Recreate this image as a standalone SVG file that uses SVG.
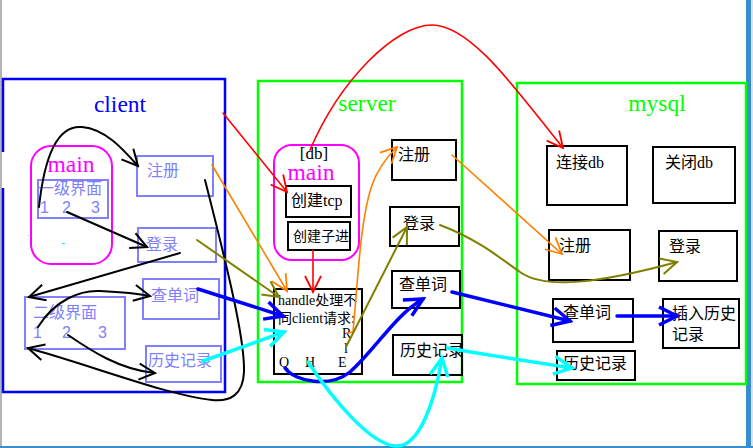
<svg xmlns="http://www.w3.org/2000/svg" width="753" height="448" viewBox="0 0 753 448">
<style>
.cn{font-family:"Liberation Sans","Noto Sans CJK SC",sans-serif}
.sf{font-family:"Liberation Serif","Noto Sans CJK SC",serif}
.lbl{fill:#8080ff;font-size:16px}
.blk{fill:#000;font-size:16px}
.pbox{fill:none;stroke:#8080ff;stroke-width:2}
.bbox{fill:none;stroke:#000;stroke-width:2}
.gbox{fill:none;stroke:#00ff00;stroke-width:2.5}
.mbox{fill:none;stroke:#ff00ff;stroke-width:2}
.ttl{font-size:23.5px}
.c{fill:none;stroke-linecap:round}
.k{stroke:#000;stroke-width:2}
.r{stroke:#ff0000;stroke-width:1.6}
.o{stroke:#ff8000;stroke-width:1.6}
.v{stroke:#808000;stroke-width:2}
.b{stroke:#0000ff;stroke-width:3.5}
.y{stroke:#00ffff;stroke-width:3.5}
</style>
<defs>
<marker id="mk-k" viewBox="0 0 20 20" refX="18" refY="10" markerWidth="20" markerHeight="20" markerUnits="userSpaceOnUse" orient="auto"><path d="M2,2 L18,10 L2,18" fill="none" stroke="#000" stroke-width="2"/></marker>
<marker id="mk-r" viewBox="0 0 20 20" refX="18" refY="10" markerWidth="20" markerHeight="20" markerUnits="userSpaceOnUse" orient="auto"><path d="M2,2 L18,10 L2,18" fill="none" stroke="#ff0000" stroke-width="1.8"/></marker>
<marker id="mk-o" viewBox="0 0 20 20" refX="18" refY="10" markerWidth="20" markerHeight="20" markerUnits="userSpaceOnUse" orient="auto"><path d="M2,2 L18,10 L2,18" fill="none" stroke="#ff8000" stroke-width="1.8"/></marker>
<marker id="mk-v" viewBox="0 0 20 20" refX="18" refY="10" markerWidth="20" markerHeight="20" markerUnits="userSpaceOnUse" orient="auto"><path d="M2,2 L18,10 L2,18" fill="none" stroke="#808000" stroke-width="2"/></marker>
<marker id="mk-b" viewBox="0 0 24 24" refX="21" refY="12" markerWidth="24" markerHeight="24" markerUnits="userSpaceOnUse" orient="auto"><path d="M3,3 L21,12 L3,21" fill="none" stroke="#0000ff" stroke-width="3.5"/></marker>
<marker id="mk-y" viewBox="0 0 24 24" refX="21" refY="12" markerWidth="24" markerHeight="24" markerUnits="userSpaceOnUse" orient="auto"><path d="M3,3 L21,12 L3,21" fill="none" stroke="#00ffff" stroke-width="3.5"/></marker>
<clipPath id="clipZi"><rect x="288" y="222" width="61" height="28"/></clipPath>
<clipPath id="clipHandle"><rect x="275" y="290" width="86" height="83"/></clipPath>
<clipPath id="clipHist"><rect x="393" y="335" width="68" height="40"/></clipPath>
</defs>
<rect x="0" y="0" width="753" height="448" fill="#fff"/>
<rect x="0" y="0" width="2" height="448" fill="#b4b4b4"/>
<rect x="746" y="0" width="5" height="448" fill="#3a8dcc"/>
<rect x="751" y="0" width="2" height="448" fill="#e0e0e0"/>
<rect x="0" y="446" width="753" height="2" fill="#3a8dcc"/>

<g id="client">
<path d="M3,152 V79 H225 V392 H3 V188" fill="none" stroke="#0000ff" stroke-width="2.5"/>
<text x="120" y="112" class="sf ttl" fill="#0000ff" text-anchor="middle">client</text>
</g>
<g id="client-main">
<rect x="31" y="146" width="81" height="118" rx="20" class="mbox"/>
<text x="71" y="172" class="sf ttl" fill="#ff00ff" text-anchor="middle">main</text>
<rect x="38" y="180" width="70" height="38" class="pbox"/>
<text x="38" y="194" class="cn lbl">一级界面</text>
<text x="40" y="213" class="cn lbl" font-size="14">1</text>
<text x="62" y="213" class="cn lbl" font-size="14">2</text>
<text x="91" y="213" class="cn lbl" font-size="14">3</text>
<rect x="28" y="235" width="1" height="1" fill="#00ffff"/>
<rect x="62" y="243" width="3" height="1" fill="#00ffff"/>
</g>
<g id="client-zhuce"><rect x="137" y="156" width="76" height="40" class="pbox"/><text x="147" y="176" class="cn lbl">注册</text></g>
<g id="client-denglu"><rect x="138" y="228" width="78" height="34" class="pbox"/><text x="146" y="250" class="cn lbl">登录</text></g>
<g id="client-cha"><rect x="143" y="279" width="76" height="40" class="pbox"/><text x="151" y="301" class="cn lbl">查单词</text></g>
<g id="client-erji">
<rect x="25" y="297" width="100" height="52" class="pbox"/>
<text x="33" y="318" class="cn lbl">二级界面</text>
<text x="33" y="338" class="cn lbl" font-size="14">1</text>
<text x="62" y="338" class="cn lbl" font-size="14">2</text>
<text x="98" y="338" class="cn lbl" font-size="14">3</text>
</g>
<g id="client-lishi"><rect x="146" y="346" width="75" height="36" class="pbox"/><text x="148" y="366" class="cn lbl">历史记录</text></g>

<g id="server">
<rect x="258" y="81" width="204" height="301" class="gbox"/>
<text x="367" y="111" class="sf ttl" fill="#00ff00" text-anchor="middle">server</text>
</g>
<g id="server-main">
<rect x="274" y="145" width="85" height="115" rx="18" class="mbox"/>
<text x="311" y="180" class="sf ttl" fill="#ff00ff" text-anchor="middle">main</text>
<text x="314" y="159" class="sf" font-size="17" fill="#000" text-anchor="middle">[db]</text>
<rect x="286" y="186" width="65" height="31" class="bbox"/>
<text x="291" y="206" class="sf blk">创建tcp</text>
<rect x="288" y="222" width="62" height="28" class="bbox"/>
<text x="293" y="241" class="sf" font-size="14" clip-path="url(#clipZi)">创建子进程</text>
</g>
<g id="server-handle">
<rect x="274" y="289" width="88" height="85" class="bbox"/>
<g clip-path="url(#clipHandle)" class="sf" font-size="14">
<text x="278" y="305">handle处理不</text>
<text x="278" y="323">同client请求:</text>
<text x="342" y="338">R</text>
<text x="344" y="353">l</text>
<text x="279" y="367">Q</text>
<text x="305" y="367">H</text>
<text x="338" y="367">E</text>
</g>
</g>
<g id="server-zhuce"><rect x="392" y="140" width="64" height="40" class="bbox"/><text x="398" y="160" class="cn blk" font-size="15">注册</text></g>
<g id="server-denglu"><rect x="390" y="207" width="69" height="39" class="bbox"/><text x="403" y="229" class="cn blk" font-size="15">登录</text></g>
<g id="server-cha"><rect x="392" y="271" width="68" height="37" class="bbox"/><text x="399" y="290" class="cn blk" font-size="15.5">查单词</text></g>
<g id="server-lishi"><rect x="393" y="335" width="69" height="40" class="bbox"/><text x="400" y="356" class="cn blk" font-size="16" clip-path="url(#clipHist)">历史记录</text></g>

<g id="mysql">
<rect x="517" y="83" width="229" height="301" class="gbox"/>
<text x="657" y="111" class="sf ttl" fill="#00ff00" text-anchor="middle">mysql</text>
</g>
<g id="mysql-lianjie"><rect x="547" y="146" width="80" height="59" class="bbox"/><text x="556" y="168" class="sf blk" font-size="15">连接db</text></g>
<g id="mysql-guanbi"><rect x="653" y="147" width="82" height="56" class="bbox"/><text x="665" y="168" class="sf blk" font-size="15">关闭db</text></g>
<g id="mysql-zhuce"><rect x="549" y="230" width="81" height="50" class="bbox"/><text x="559" y="251" class="cn blk" font-size="15">注册</text></g>
<g id="mysql-denglu"><rect x="659" y="231" width="78" height="50" class="bbox"/><text x="669" y="252" class="cn blk" font-size="15">登录</text></g>
<g id="mysql-cha"><rect x="553" y="299" width="80" height="43" class="bbox"/><text x="563" y="318" class="cn blk" font-size="15">查单词</text></g>
<g id="mysql-charu"><rect x="663" y="299" width="76" height="49" class="bbox"/><text x="672" y="319" class="cn blk" font-size="15">插入历史</text><text x="672" y="340" class="cn blk" font-size="15">记录</text></g>
<g id="mysql-lishi"><rect x="557" y="351" width="78" height="29" class="bbox"/><text x="563" y="369" class="cn blk" font-size="15">历史记录</text></g>

<g id="connectors">
<path class="c k" d="M39,207 C45,150 60,125 82,127 C105,129 122,148 138,166" marker-end="url(#mk-k)"/>
<path class="c k" d="M67,212 L147,247" marker-end="url(#mk-k)"/>
<path class="c k" d="M180,253 L29,297" marker-end="url(#mk-k)"/>
<path class="c k" d="M38,327 C55,300 80,290 100,291 C120,292 135,293 150,296" marker-end="url(#mk-k)"/>
<path class="c k" d="M68,335 C90,350 120,370 155,373" marker-end="url(#mk-k)"/>
<path class="c k" d="M205,180 C228,270 245,340 244,372 C243,395 230,402 212,400 C170,396 90,365 28,348" marker-end="url(#mk-k)"/>
<path class="c r" d="M310,150 C340,80 395,25 432,25 C472,25 520,95 563,148" marker-end="url(#mk-r)"/>
<path class="c r" d="M223,113 L287,192" marker-end="url(#mk-r)"/>
<path class="c r" d="M313,250 L313,292" marker-end="url(#mk-r)"/>
<path class="c o" d="M212,165 L287,291" marker-end="url(#mk-o)"/>
<path class="c o" d="M347,333 L353,332 C358,280 360,220 372,185 C378,168 388,156 397,147" marker-end="url(#mk-o)"/>
<path class="c o" d="M452,155 L562,254" marker-end="url(#mk-o)"/>
<path class="c v" d="M197,240 L279,297" marker-end="url(#mk-v)"/>
<path class="c v" d="M346,347 L407,227" marker-end="url(#mk-v)"/>
<path class="c v" d="M440,225 C480,240 505,262 520,272 C545,290 600,283 677,262" marker-end="url(#mk-v)"/>
<path class="c b" d="M198,289 L283,316" marker-end="url(#mk-b)"/>
<path class="c b" d="M285,368 C295,382 330,388 350,372 C375,350 395,315 423,299" marker-end="url(#mk-b)"/>
<path class="c b" d="M452,292 L570,321" marker-end="url(#mk-b)"/>
<path class="c b" d="M617,316 L677,316" marker-end="url(#mk-b)"/>
<path class="c y" d="M203,361 L284,332" marker-end="url(#mk-y)"/>
<path class="c y" d="M308,362 C330,395 370,446 397,446 C420,446 435,400 442,358" marker-end="url(#mk-y)"/>
<path class="c y" d="M448,348 C470,352 520,360 572,368" marker-end="url(#mk-y)"/>
</g>
</svg>
